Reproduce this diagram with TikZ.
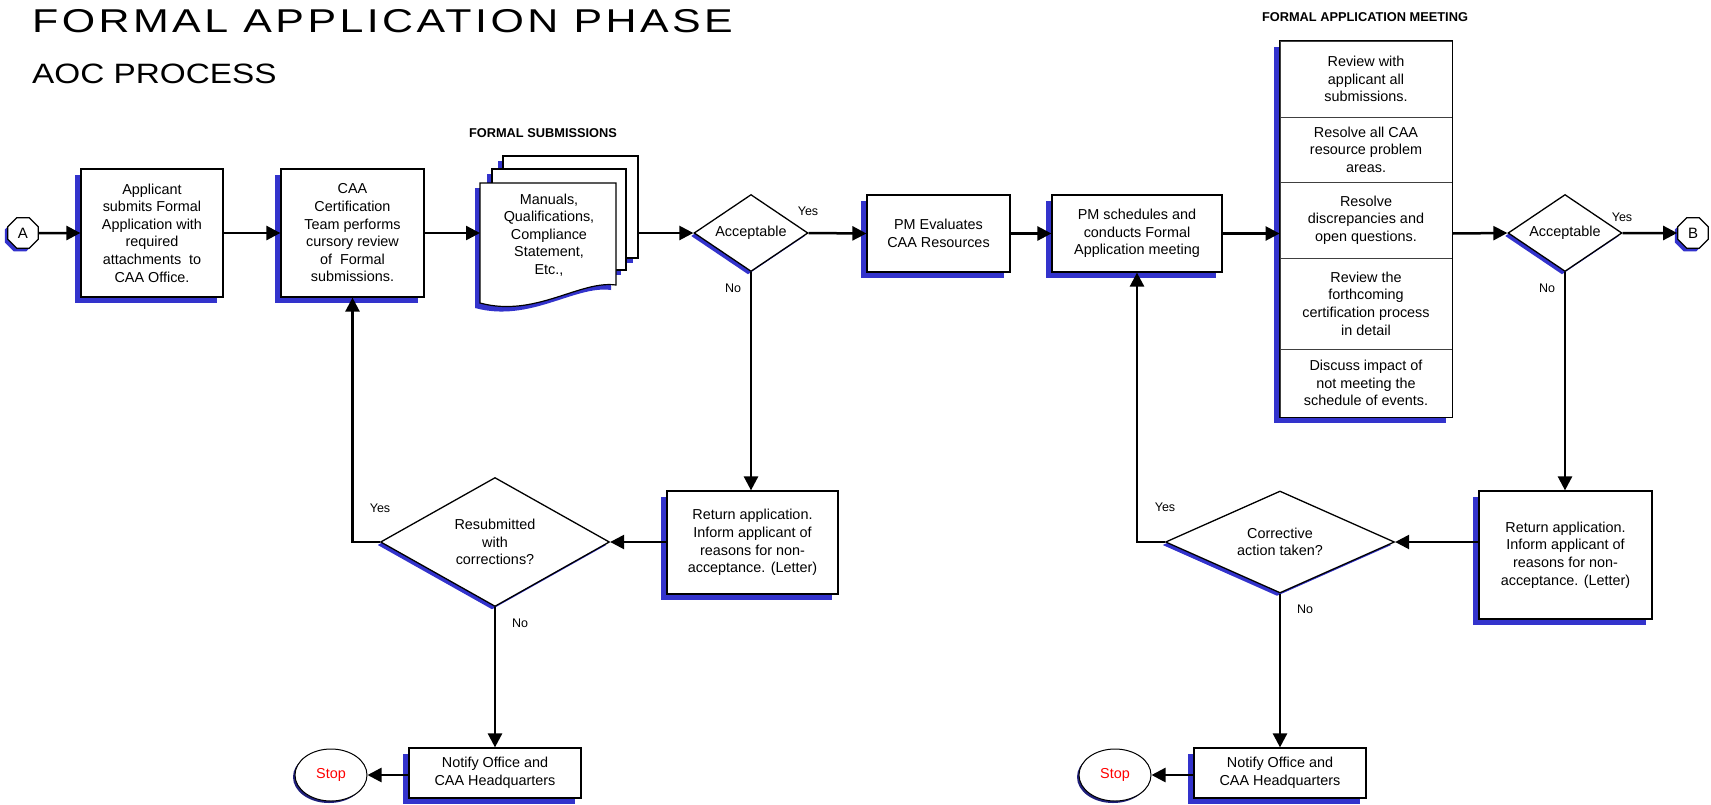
\documentclass[tikz,border=0pt]{standalone}
\usepackage{fontspec}
\setmainfont{Liberation Sans}
\newfontfamily\titlefont[LetterSpace=8]{Liberation Sans}
\usetikzlibrary{shapes.geometric,shadows,arrows.meta}
\definecolor{sblue}{RGB}{51,51,204}
\begin{document}
\begin{tikzpicture}[x=1pt,y=-1pt,
  every node/.style={font=\fontsize{14.4}{17.6}\selectfont, align=center, inner sep=1pt},
  box/.style={draw, fill=white, line width=1.2pt,
    drop shadow={shadow xshift=-6pt,shadow yshift=-6pt,fill=sblue,opacity=1}},
  dia/.style={diamond, draw, fill=white, line width=1.3pt, inner sep=0pt,
    drop shadow={shadow xshift=-3pt,shadow yshift=-3pt,fill=sblue,opacity=1}},
  term/.style={regular polygon, regular polygon sides=8, draw, fill=white, line width=1.2pt,
    minimum size=33pt, inner sep=0pt, font=\fontsize{15}{18}\selectfont,
    drop shadow={shadow xshift=-3pt,shadow yshift=-3pt,fill=sblue,opacity=1}},
  stopnode/.style={ellipse, draw, fill=white, line width=1pt, minimum width=72pt, minimum height=52pt,
    text=red, font=\fontsize{14.4}{17}\selectfont,
    drop shadow={shadow xshift=-2pt,shadow yshift=-2pt,fill=sblue!60!black,opacity=1}},
  conn/.style={line width=2.5pt, -{Triangle[length=14pt,width=14pt]}},
  lab/.style={font=\fontsize{12.5}{15}\selectfont},
  head/.style={font=\bfseries\fontsize{12.8}{15}\selectfont},
  sheet/.style={draw, fill=white, line width=1.2pt},
  sheetshadow/.style={fill=sblue},
  mrow/.style={draw=black!75, fill=white, line width=0.8pt, minimum width=172pt}
]
\useasboundingbox (0,0) rectangle (1711,804);

% titles
\node[anchor=base west, inner sep=0pt] (title) at (32,32)
  {\scalebox{1.3}[1]{\titlefont\fontsize{33}{36}\selectfont FORMAL APPLICATION PHASE}};
\node[anchor=base west, inner sep=0pt] (subtitle) at (32,83)
  {\scalebox{1.19}[1]{\fontsize{28}{32}\selectfont AOC PROCESS}};
\node[head] (fs) at (543,133) {FORMAL SUBMISSIONS};
\node[head] (fam) at (1365,17) {FORMAL APPLICATION MEETING};

% top row
\node[term] (A) at (23,233) {A};
\node[box, minimum width=142pt, minimum height=128pt] (b1) at (152,233)
  {Applicant\\submits Formal\\Application with\\required\\attachments\ \ to\\CAA Office.};
\node[box, minimum width=143pt, minimum height=128pt] (b2) at (352.5,233)
  {CAA\\Certification\\Team performs\\cursory review\\of\ \ Formal\\submissions.};

% document stack
\fill[sheetshadow] (498,161) rectangle (633,263);
\draw[sheet] (503,156) rectangle (638,258);
\fill[sheetshadow] (487,174) rectangle (621,275);
\draw[sheet] (492,169) rectangle (626,270);
\fill[sheetshadow] (475,188) -- (611,188) -- (611,290)
  .. controls (575,285) and (530,323) .. (475,308) -- cycle;
\draw[sheet] (480,183) -- (616,183) -- (616,285)
  .. controls (580,280) and (535,318) .. (480,303) -- cycle;
\coordinate (docL) at (480,233);
\coordinate (docR) at (638,233);
\node (doc) at (549,235) {Manuals,\\Qualifications,\\Compliance\\Statement,\\Etc.,};

\node[dia, minimum width=114pt, minimum height=77pt] (d1) at (751,233) {};
\node (d1t) at (751,233) {Acceptable};
\node[box, minimum width=143pt, minimum height=77pt] (pme) at (938.5,233.5) {PM Evaluates\\CAA Resources};
\node[box, minimum width=170pt, minimum height=77pt] (pms) at (1137,233.5) {PM schedules and\\conducts Formal\\Application meeting};

% meeting stack
\fill[sblue] (1274,47) rectangle (1446,423);
\node[mrow, minimum height=76pt] (m1) at (1366,79) {Review with\\applicant all\\submissions.};
\node[mrow, minimum height=65pt] (m2) at (1366,149.5) {Resolve all CAA\\resource problem\\areas.};
\node[mrow, minimum height=76pt] (m3) at (1366,220) {Resolve\\discrepancies and\\open questions.};
\node[mrow, minimum height=91pt] (m4) at (1366,303.5) {Review the\\forthcoming\\certification process\\in detail};
\node[mrow, minimum height=68pt] (m5) at (1366,383) {Discuss impact of\\not meeting the\\schedule of events.};
\draw[line width=1.3pt] (m1.north west) rectangle (m5.south east);

\node[dia, minimum width=114pt, minimum height=77pt] (d2) at (1565,233) {};
\node (d2t) at (1565,233) {Acceptable};
\node[term] (B) at (1693,233) {B};

% lower left
\node[dia, minimum width=229pt, minimum height=129pt] (d3) at (495,542) {};
\node (d3t) at (495,542) {Resubmitted\\with\\corrections?};
\node[box, minimum width=171pt, minimum height=103pt] (r1) at (752.5,542.5)
  {Return application.\\Inform applicant of\\reasons for non-\\acceptance. (Letter)};
\node[box, minimum width=172pt, minimum height=50pt] (n1) at (495,773) {Notify Office and\\CAA Headquarters};
\node[stopnode] (s1) at (331,775) {Stop};

% lower right
\node[dia, minimum width=229pt, minimum height=102pt] (d4) at (1280,542) {};
\node (d4t) at (1280,542) {Corrective\\action taken?};
\node[box, minimum width=173pt, minimum height=128pt] (r2) at (1565.5,555)
  {Return application.\\Inform applicant of\\reasons for non-\\acceptance. (Letter)};
\node[box, minimum width=172pt, minimum height=50pt] (n2) at (1280,773) {Notify Office and\\CAA Headquarters};
\node[stopnode] (s2) at (1115,775) {Stop};

% connectors top row
\draw[conn] (A.east) -- (b1.west);
\draw[conn] (b1.east) -- (b2.west);
\draw[conn] (b2.east) -- (docL);
\draw[conn] (docR) -- (d1.west);
\draw[conn] (d1.east) -- (pme.west);
\draw[conn] (pme.east) -- (pms.west);
\draw[conn] (pms.east) -- (pms.east -| m3.west);
\draw[conn] (pms.east -| m3.east) -- (d2.west);
\draw[conn] (d2.east) -- (B.west);

% connectors lower left
\draw[conn] (d1.south) -- (d1.south |- r1.north);
\draw[conn] (r1.west |- d3.east) -- (d3.east);
\draw[conn] (d3.west) -| (b2.south);
\draw[conn] (d3.south) -- (d3.south |- n1.north);
\draw[conn] (n1.west |- s1.east) -- (s1.east);

% connectors lower right
\draw[conn] (d2.south) -- (d2.south |- r2.north);
\draw[conn] (r2.west |- d4.east) -- (d4.east);
\draw[conn] (d4.west) -| (pms.south);
\draw[conn] (d4.south) -- (d4.south |- n2.north);
\draw[conn] (n2.west |- s2.east) -- (s2.east);

% labels
\node[lab] (y1) at (808,211) {Yes};
\node[lab] (no1) at (733,288) {No};
\node[lab] (y2) at (1622,217) {Yes};
\node[lab] (no2) at (1547,288) {No};
\node[lab] (y3) at (380,508) {Yes};
\node[lab] (no3) at (520,623) {No};
\node[lab] (y4) at (1165,507) {Yes};
\node[lab] (no4) at (1305,609) {No};
\end{tikzpicture}
\end{document}
